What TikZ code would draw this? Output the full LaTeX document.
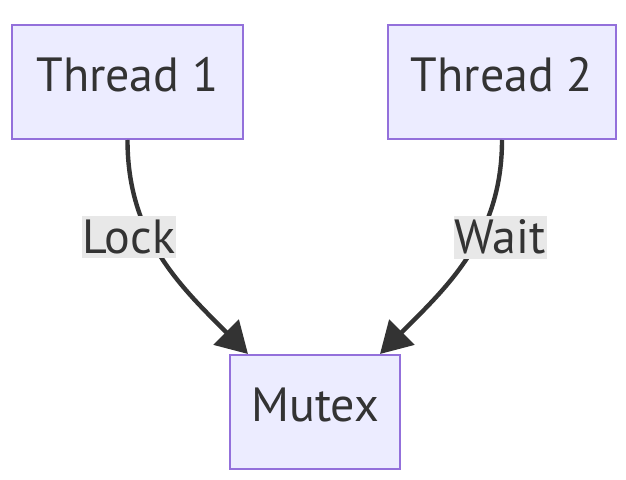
\documentclass[tikz,border=0pt]{standalone}
\usepackage{fontspec}
\setmainfont{PT Sans}
\usetikzlibrary{arrows.meta}
\definecolor{boxfill}{HTML}{ECECFF}
\definecolor{boxline}{HTML}{9370DB}
\definecolor{ink}{HTML}{333333}
\definecolor{labelbg}{HTML}{E8E8E8}
\tikzset{
  thread/.style={draw=boxline, fill=boxfill, line width=1pt, text=ink,
    minimum height=57pt, text height=17pt, text depth=7pt,
    font=\fontsize{24}{28}\selectfont},
  elabel/.style={fill=labelbg, text=ink, inner xsep=0.5pt, inner ysep=2pt,
    font=\fontsize{24}{28}\selectfont},
  flow/.style={draw=ink, line width=2.2pt,
    -{Triangle[length=15.5pt,width=17.5pt]}}
}
\begin{document}
\begin{tikzpicture}[x=0.5pt, y=-0.5pt]
  \useasboundingbox (0,0) rectangle (626,480);
  % nodes
  \node[thread, minimum width=115.5pt] (t1) at (127.5,82) {Thread 1};
  \node[thread, minimum width=114pt] (t2) at (502,82) {Thread 2};
  \node[thread, minimum width=85pt] (mx) at (315,412) {Mutex};
  % edges
  \draw[flow] (t1.south) to[out=-90, in=135]
    node[elabel, pos=0.4, xshift=-10.75pt] {Lock} ([xshift=-33.5pt]mx.north);
  \draw[flow] (t2.south) to[out=-90, in=45]
    node[elabel, pos=0.4, xshift=10.75pt] {Wait} ([xshift=32.5pt]mx.north);
\end{tikzpicture}
\end{document}
